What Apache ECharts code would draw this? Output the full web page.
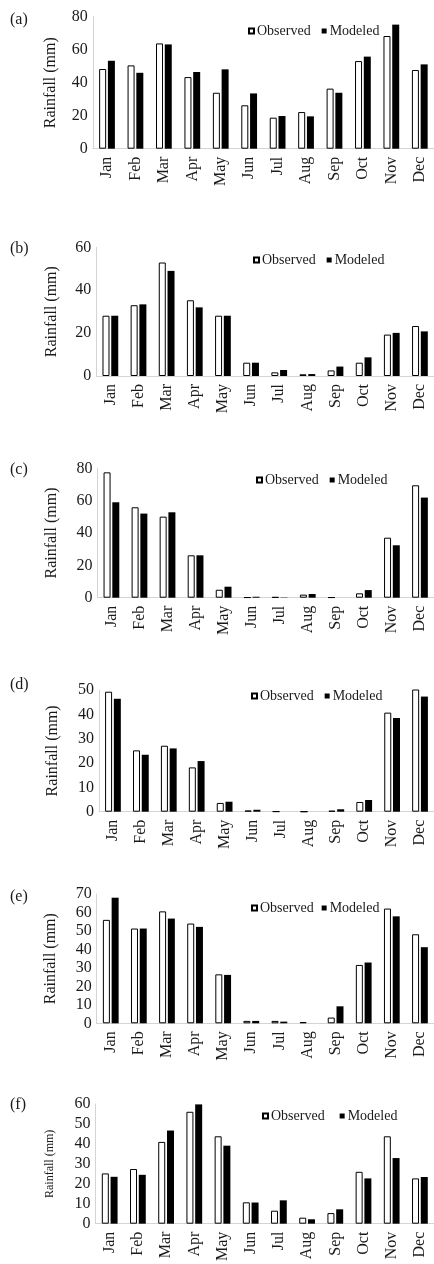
<!DOCTYPE html>
<html>
<head>
<meta charset="utf-8">
<script src="https://cdn.jsdelivr.net/npm/echarts@6/dist/echarts.min.js"></script>
<style>
html,body{margin:0;padding:0;background:#fff;}
#chart{width:434px;height:1264px;}
</style>
</head>
<body>
<div id="chart"></div>
<script>
// ---- data ----
const months = ['Jan','Feb','Mar','Apr','May','Jun','Jul','Aug','Sep','Oct','Nov','Dec'];
const panelLabels = ['(a)','(b)','(c)','(d)','(e)','(f)'];
const seriesNames = ['Observed','Modeled'];

const observedA = [48.3, 50.5, 63.8, 43.4, 33.9, 26.3, 18.8, 22.2, 36.4, 53.1, 68.3, 47.7];
const modeledA  = [53.3, 46.0, 63.2, 46.5, 48.1, 33.5, 19.8, 19.6, 33.9, 55.8, 75.2, 51.1];

const observedB = [28.1, 33.0, 52.9, 35.3, 28.1, 6.2, 1.7, 0.8, 2.6, 6.2, 19.3, 23.3];
const modeledB  = [28.1, 33.4, 49.0, 32.0, 28.1, 6.2, 2.8, 0.9, 4.4, 8.7, 20.1, 20.8];

const observedC = [77.5, 55.9, 50.1, 26.2, 4.9, 0.2, 0.4, 1.9, 0.2, 2.7, 37.1, 69.5];
const modeledC  = [59.0, 52.0, 52.8, 26.2, 6.8, 0.6, 0.2, 2.3, 0.0, 4.7, 32.4, 61.9];

const observedD = [49.3, 25.2, 27.1, 18.2, 3.6, 0.5, 0.1, 0.0, 0.4, 4.0, 40.7, 51.8];
const modeledD  = [46.4, 23.4, 26.0, 20.8, 4.1, 0.8, 0.0, 0.0, 1.0, 4.8, 38.5, 47.3];

const observedE = [56.0, 51.3, 60.6, 54.0, 26.5, 1.3, 1.3, 0.7, 3.1, 31.6, 62.1, 48.2];
const modeledE  = [68.0, 51.3, 56.7, 52.2, 26.2, 1.3, 0.9, 0.0, 9.2, 32.9, 57.9, 41.2];

const observedF = [25.2, 27.4, 41.0, 56.1, 43.8, 10.7, 6.5, 3.0, 5.3, 26.0, 43.8, 22.7];
const modeledF  = [23.5, 24.5, 46.7, 59.8, 39.1, 10.6, 11.7, 2.2, 7.2, 22.7, 32.9, 23.4];

const yMaxes    = [80, 60, 80, 50, 70, 60];
const yIntervals = [20, 20, 20, 10, 10, 10];
const yTitle = 'Rainfall (mm)';

// ---- layout (pixels) ----
const layout = [
  {left: 92.8, top: 16.7,  width: 349,   height: 132,   legL: 243, legT: 19,   legGap: 11, labT: 12,   titleSize: 16, nameGap: 34},
  {left: 96.3, top: 247.3, width: 344.8, height: 128.7, legL: 248, legT: 248,  legGap: 11, labT: 241,  titleSize: 16, nameGap: 37},
  {left: 97.4, top: 468.3, width: 343.6, height: 129.4, legL: 251, legT: 468,  legGap: 11, labT: 462,  titleSize: 16, nameGap: 38},
  {left: 99,   top: 690,   width: 343,   height: 121.7, legL: 246, legT: 684,  legGap: 11, labT: 677,  titleSize: 16, nameGap: 38},
  {left: 96.7, top: 894,   width: 344.4, height: 129.3, legL: 246, legT: 896,  legGap: 8,  labT: 889,  titleSize: 16, nameGap: 38},
  {left: 95.6, top: 1104,  width: 345,   height: 128.3, legL: 257, legT: 1104, legGap: 15, labT: 1097, titleSize: 12, nameGap: 40}
];

const observed = [observedA, observedB, observedC, observedD, observedE, observedF];
const modeled  = [modeledA, modeledB, modeledC, modeledD, modeledE, modeledF];

const FONT = "'Liberation Serif', 'Times New Roman', serif";
const TXT = '#1a1a1a';

const grids = [], xAxes = [], yAxes = [], series = [], legends = [], graphics = [];
layout.forEach((L, i) => {
  grids.push({left: L.left, top: L.top, width: L.width, height: L.height, containLabel: false});
  xAxes.push({
    type: 'category', gridIndex: i, data: months,
    axisLine: {show: true, lineStyle: {color: '#d4d4d4', width: 1}},
    axisTick: {show: false},
    axisLabel: {rotate: 90, margin: 8, fontFamily: FONT, fontSize: 16, color: TXT, interval: 0}
  });
  yAxes.push({
    type: 'value', gridIndex: i, min: 0, max: yMaxes[i], interval: yIntervals[i],
    name: yTitle, nameLocation: 'middle', nameRotate: 90, nameGap: L.nameGap,
    nameTextStyle: {fontFamily: FONT, fontSize: L.titleSize, color: TXT},
    axisLine: {show: true, lineStyle: {color: '#d4d4d4', width: 1}},
    axisTick: {show: false},
    splitLine: {show: false},
    axisLabel: {margin: 5, fontFamily: FONT, fontSize: 16, color: TXT}
  });
  series.push({
    name: seriesNames[0], type: 'bar', xAxisIndex: i, yAxisIndex: i,
    data: observed[i], barWidth: 7, barGap: '25%',
    itemStyle: {color: '#ffffff', borderColor: '#000000', borderWidth: 1},
    emphasis: {disabled: true}, animation: false
  });
  series.push({
    name: seriesNames[1], type: 'bar', xAxisIndex: i, yAxisIndex: i,
    data: modeled[i], barWidth: 7, barGap: '25%',
    itemStyle: {color: '#000000', borderColor: '#000000', borderWidth: 0},
    emphasis: {disabled: true}, animation: false
  });
  legends.push({
    left: L.legL, top: L.legT, orient: 'horizontal',
    data: seriesNames, icon: 'rect', itemWidth: 5, itemHeight: 5, itemGap: L.legGap,
    textStyle: {fontFamily: FONT, fontSize: 14, color: TXT, padding: [0, 0, 0, -2]},
    selectedMode: false
  });
  graphics.push({
    type: 'text', left: 10, top: L.labT,
    style: {text: panelLabels[i], font: '16px ' + FONT, fill: TXT}
  });
});

const chart = echarts.init(document.getElementById('chart'), null, {renderer: 'canvas'});
chart.setOption({
  backgroundColor: '#ffffff',
  animation: false,
  grid: grids, xAxis: xAxes, yAxis: yAxes, series: series,
  legend: legends, graphic: graphics
});
</script>
</body>
</html>
